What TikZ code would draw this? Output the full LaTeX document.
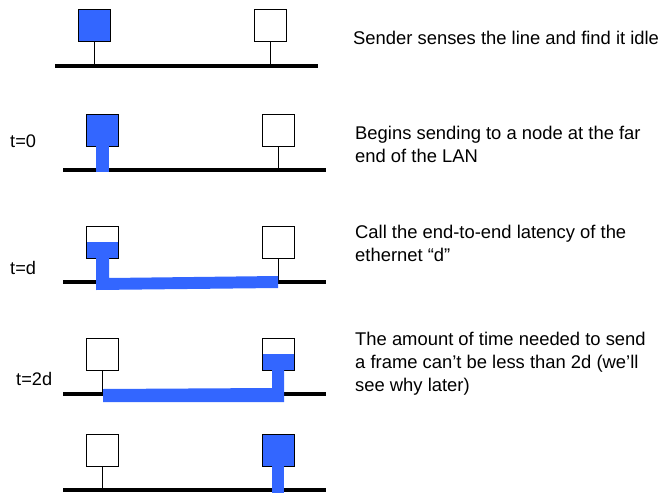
\documentclass[tikz,border=0pt]{standalone}
\usepackage{fontspec}
\setmainfont{Liberation Sans}
\definecolor{sigblue}{HTML}{3366FF}
\begin{document}
\begin{tikzpicture}[x=1pt,y=-1pt,
  station/.style={draw=black,line width=1pt,minimum width=32pt,minimum height=32pt,inner sep=0pt,fill=white},
  busy/.style={station,fill=sigblue},
  halfbusy/.style={station,path picture={\fill[sigblue] (path picture bounding box.west) rectangle (path picture bounding box.south east);}},
  bus/.style={line width=4pt,black},
  stem/.style={line width=1pt,black},
  signal/.style={fill=sigblue,draw=none},
  % multi-line notes are placed by the baseline of their last line
  note/.style={anchor=base west,inner sep=0pt,font=\fontsize{18.4}{22.8}\selectfont,align=left},
  tlabel/.style={anchor=base west,inner sep=0pt,font=\fontsize{18.2}{22}\selectfont}]
\useasboundingbox (0,0) rectangle (666,495);

% --- 1: sender senses the line
\coordinate (b1l) at (55,66);  \coordinate (b1r) at (318,66);
\draw[bus] (b1l) -- (b1r);
\node[busy] (s1) at (94,26) {};
\node[station] (r1) at (270,26) {};
\coordinate (s1t) at (94,66); \coordinate (r1t) at (270,66);
\draw[stem] (s1.south) -- (s1t);
\draw[stem] (r1.south) -- (r1t);
\node[note] (n1) at (353,45) {Sender senses the line and find it idle};

% --- 2: t=0
\coordinate (b2l) at (63,170); \coordinate (b2r) at (326,170);
\draw[bus] (b2l) -- (b2r);
\node[busy] (s2) at (102,130) {};
\node[station] (r2) at (278,130) {};
\coordinate (r2t) at (278,170);
\draw[stem] (r2.south) -- (r2t);
\fill[signal] (96,146) rectangle (109,172);
\node[tlabel] (t2) at (10,147) {t=0};
\node[note] (n2) at (355,162) {Begins sending to a node at the far\\end of the LAN};

% --- 3: t=d
\coordinate (b3l) at (63,282); \coordinate (b3r) at (326,282);
\draw[bus] (b3l) -- (b3r);
\node[halfbusy] (s3) at (102,242) {};
\node[station] (r3) at (278,242) {};
\coordinate (r3t) at (278,282);
\draw[stem] (r3.south) -- (r3t);
\fill[signal] (96,258) -- (109,258) -- (109,278) -- (278,276) -- (278,288) -- (96,290) -- cycle;
\node[tlabel] (t3) at (10,274) {t=d};
\node[note] (n3) at (355,261) {Call the end-to-end latency of the\\ethernet “d”};

% --- 4: t=2d
\coordinate (b4l) at (63,394); \coordinate (b4r) at (326,394);
\draw[bus] (b4l) -- (b4r);
\node[station] (s4) at (102,354) {};
\node[halfbusy] (r4) at (278,354) {};
\coordinate (s4t) at (102,394);
\draw[stem] (s4.south) -- (s4t);
\fill[signal] (103,389) -- (272,388) -- (272,370) -- (284,370) -- (284,402) -- (103,402) -- cycle;
\node[tlabel] (t4) at (16,385) {t=2d};
\node[note] (n4) at (355,391) {The amount of time needed to send\\a frame can’t be less than 2d (we’ll\\see why later)};

% --- 5: frame arrives
\coordinate (b5l) at (63,490); \coordinate (b5r) at (326,490);
\draw[bus] (b5l) -- (b5r);
\node[station] (s5) at (102,450) {};
\node[busy] (r5) at (278,450) {};
\coordinate (s5t) at (102,490);
\draw[stem] (s5.south) -- (s5t);
\fill[signal] (272,466) rectangle (284,493);
\end{tikzpicture}
\end{document}
